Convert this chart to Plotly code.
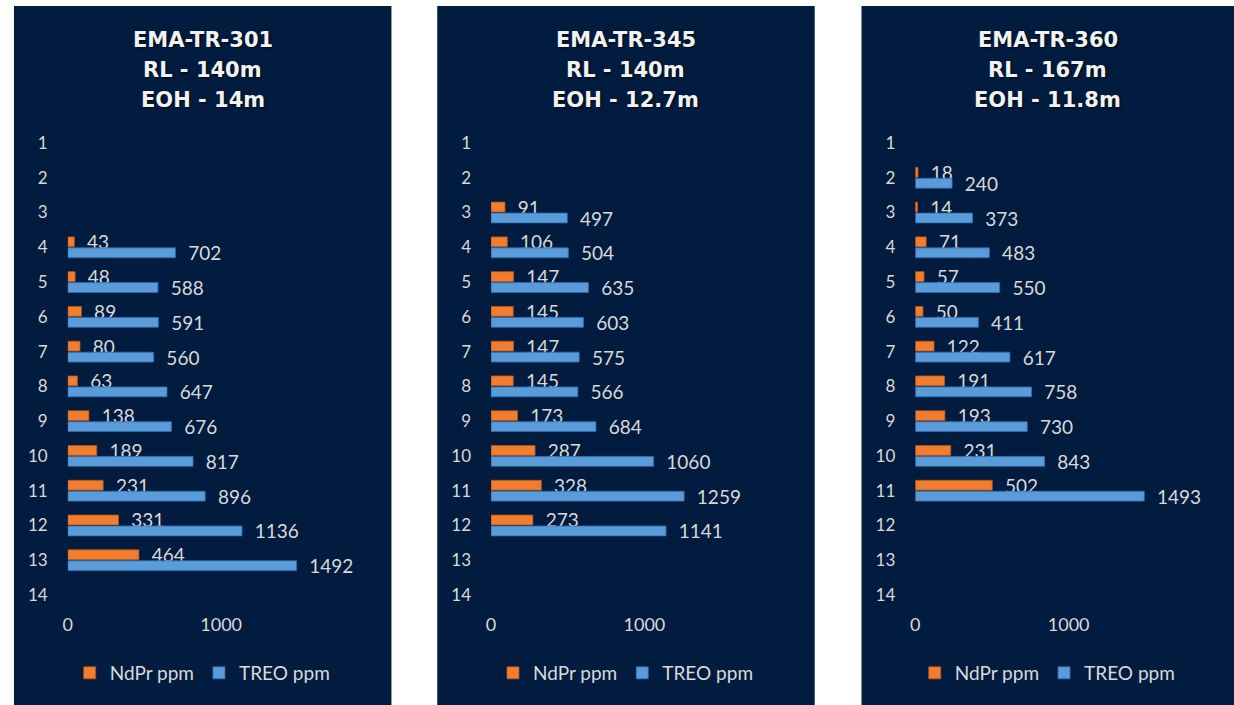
import plotly.graph_objects as go

# ---------------- data ----------------
holes = ["EMA-TR-301", "EMA-TR-345", "EMA-TR-360"]
rl_labels = ["RL - 140m", "RL - 140m", "RL - 167m"]
eoh_labels = ["EOH - 14m", "EOH - 12.7m", "EOH - 11.8m"]

depth_ticks = list(range(1, 15))
x_ticks = [0, 1000]

depth_301 = [4, 5, 6, 7, 8, 9, 10, 11, 12, 13]
ndpr_301 = [43, 48, 89, 80, 63, 138, 189, 231, 331, 464]
treo_301 = [702, 588, 591, 560, 647, 676, 817, 896, 1136, 1492]

depth_345 = [3, 4, 5, 6, 7, 8, 9, 10, 11, 12]
ndpr_345 = [91, 106, 147, 145, 147, 145, 173, 287, 328, 273]
treo_345 = [497, 504, 635, 603, 575, 566, 684, 1060, 1259, 1141]

depth_360 = [2, 3, 4, 5, 6, 7, 8, 9, 10, 11]
ndpr_360 = [18, 14, 71, 57, 50, 122, 191, 193, 231, 502]
treo_360 = [240, 373, 483, 550, 411, 617, 758, 730, 843, 1493]

series = [
    (depth_301, ndpr_301, treo_301),
    (depth_345, ndpr_345, treo_345),
    (depth_360, ndpr_360, treo_360),
]

# ---------------- styling ----------------
W, H = 1234, 705
NAVY = "#011C3F"
ORANGE = "#F27D2E"
ORANGE_LINE = "#B8561A"
BLUE = "#5A9BDA"
BLUE_LINE = "#2F6FAE"
TXT = "#D9D9D9"
TITLE = "#F2F2F2"
FONT = "Lato"

panels_px = [(9, 388), (434, 813), (860, 1234)]
zero_px = [63, 488, 914]
plot_w = 308  # px for 0..2000
plot_top, plot_bot = 125.6, 612.4

fig = go.Figure()
shapes = []
annotations = []
layout_axes = {}

for i, (depths, nd, tr) in enumerate(series):
    sfx = "" if i == 0 else str(i + 1)
    xa, ya = "x" + sfx, "y" + sfx
    lg = "legend" + sfx
    for name, vals, col, lcol in [("NdPr ppm", nd, ORANGE, ORANGE_LINE),
                                  ("TREO ppm", tr, BLUE, BLUE_LINE)]:
        fig.add_trace(go.Bar(
            x=vals, y=depths, orientation="h", name=name,
            xaxis=xa, yaxis=ya, legend=lg,
            marker=dict(color=col, line=dict(color=lcol, width=0.8)),
            texttemplate="\u00a0\u00a0%{x}", textposition="outside",
            constraintext="none", cliponaxis=False,
            textfont=dict(family=FONT, size=19, color=TXT),
            hoverinfo="skip",
        ))
    x0 = zero_px[i] / W
    x1 = (zero_px[i] + plot_w) / W
    layout_axes["xaxis" + sfx] = dict(
        domain=[x0, x1], range=[0, 2000], anchor=ya,
        tickvals=x_ticks, showgrid=False, zeroline=False, showline=False,
        tickfont=dict(family=FONT, size=18, color=TXT), ticks="",
    )
    layout_axes["yaxis" + sfx] = dict(
        domain=[1 - plot_bot / H, 1 - plot_top / H], range=[14.5, 0.5],
        anchor=xa, tickvals=depth_ticks, showgrid=False, zeroline=False,
        showline=False, ticks="", ticklabelstandoff=19,
        tickfont=dict(family=FONT, size=17, color=TXT),
    )
    px0, px1 = panels_px[i]
    shapes.append(dict(type="rect", xref="paper", yref="paper",
                       x0=px0 / W, x1=px1 / W, y0=0, y1=1 - 6 / H,
                       fillcolor=NAVY, line=dict(width=0), layer="below"))
    cx = (px0 + px1) / 2 / W
    for txt, ypx in [(holes[i], 40), (rl_labels[i], 70), (eoh_labels[i], 100)]:
        annotations.append(dict(
            text="<b>" + txt + "</b>", xref="paper", yref="paper",
            x=cx, y=1 - ypx / H, xanchor="center", yanchor="middle",
            showarrow=False,
            font=dict(family="DejaVu Sans", size=21, color=TITLE,
                      shadow="1px 1px 2px rgba(0,0,0,0.7)"),
        ))
    layout_axes[lg] = dict(
        orientation="h", x=cx, y=1 - 673 / H, xanchor="center",
        yanchor="middle", bgcolor="rgba(0,0,0,0)",
        font=dict(family=FONT, size=19, color=TXT),
        itemwidth=30, traceorder="normal",
    )

fig.update_layout(
    width=W, height=H, margin=dict(l=0, r=0, t=0, b=0),
    paper_bgcolor="white", plot_bgcolor="rgba(0,0,0,0)",
    barmode="group", bargap=0.37, bargroupgap=0.1,
    shapes=shapes, annotations=annotations, hovermode=False,
    **layout_axes,
)

fig.write_html(
    "out.html",
    config={"displayModeBar": False},
    post_script="document.body.style.margin='0';document.body.style.overflow='hidden';",
)
